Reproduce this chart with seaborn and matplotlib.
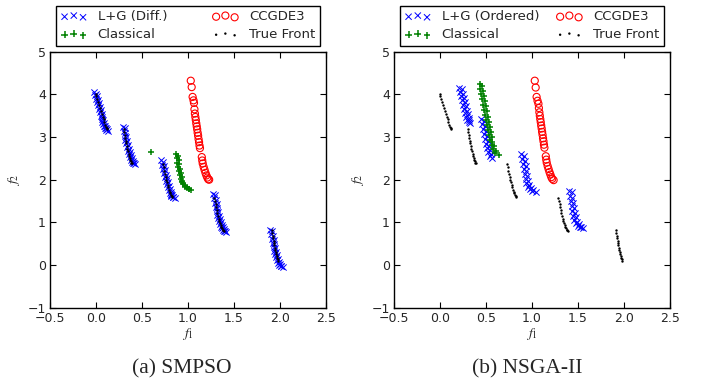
import numpy as np
import matplotlib
matplotlib.use("Agg")
import matplotlib.pyplot as plt
import seaborn as sns

# ---------------- data ----------------
# True Pareto front (same in both panels)
tf_x = [0.000, 0.004, 0.012, 0.022, 0.032, 0.042, 0.052, 0.062, 0.072, 0.082, 0.092, 0.102, 0.110, 0.116, 0.120,
        0.300, 0.306, 0.312, 0.318, 0.324, 0.330, 0.336, 0.342, 0.348, 0.354, 0.360, 0.366, 0.372, 0.378, 0.384, 0.390,
        0.730, 0.737, 0.744, 0.751, 0.758, 0.765, 0.772, 0.779, 0.786, 0.793, 0.800, 0.807, 0.814, 0.821, 0.828,
        1.285, 1.292, 1.299, 1.306, 1.313, 1.320, 1.327, 1.334, 1.341, 1.348, 1.355, 1.362, 1.369, 1.376, 1.383, 1.390,
        1.910, 1.915, 1.920, 1.925, 1.930, 1.935, 1.940, 1.945, 1.950, 1.955, 1.960, 1.965, 1.970, 1.975, 1.980]
tf_y = [4.00, 3.96, 3.90, 3.83, 3.76, 3.69, 3.62, 3.55, 3.48, 3.42, 3.35, 3.29, 3.24, 3.20, 3.18,
        3.19, 3.12, 3.05, 2.98, 2.91, 2.85, 2.79, 2.73, 2.67, 2.61, 2.56, 2.51, 2.47, 2.43, 2.40, 2.39,
        2.37, 2.29, 2.21, 2.14, 2.07, 2.00, 1.94, 1.88, 1.82, 1.77, 1.72, 1.68, 1.64, 1.61, 1.60,
        1.57, 1.49, 1.42, 1.35, 1.28, 1.21, 1.15, 1.09, 1.04, 0.99, 0.94, 0.90, 0.86, 0.83, 0.81, 0.80,
        0.81, 0.75, 0.69, 0.63, 0.57, 0.51, 0.46, 0.41, 0.36, 0.31, 0.26, 0.21, 0.17, 0.13, 0.09]

# (a) SMPSO
smpso_lg_x = [-0.02, 0.00, -0.01, 0.01, 0.00, 0.02, 0.01, 0.03, 0.02, 0.04, 0.03, 0.05, 0.04, 0.06, 0.05, 0.07, 0.06, 0.08,
              0.07, 0.09, 0.08, 0.10, 0.09, 0.11, 0.10, 0.12, 0.11, 0.13,
              0.29, 0.31, 0.30, 0.32, 0.31, 0.33, 0.32, 0.34, 0.33, 0.35, 0.34, 0.36, 0.35, 0.37, 0.36, 0.38, 0.37, 0.39,
              0.38, 0.40, 0.39, 0.41, 0.40, 0.42,
              0.71, 0.73, 0.72, 0.74, 0.73, 0.75, 0.74, 0.76, 0.75, 0.77, 0.76, 0.78, 0.77, 0.79, 0.78, 0.80, 0.79, 0.81,
              0.80, 0.82, 0.81, 0.83, 0.82, 0.84, 0.84, 0.86,
              1.27, 1.29, 1.28, 1.30, 1.29, 1.31, 1.30, 1.32, 1.31, 1.33, 1.32, 1.34, 1.33, 1.35, 1.34, 1.36, 1.35, 1.37,
              1.36, 1.38, 1.37, 1.39, 1.38, 1.40, 1.39, 1.41,
              1.89, 1.91, 1.90, 1.92, 1.91, 1.93, 1.92, 1.94, 1.93, 1.95, 1.94, 1.96, 1.95, 1.97, 1.96, 1.98, 1.97, 1.99,
              1.98, 2.00, 1.99, 2.01, 2.01, 2.03]
smpso_lg_y = [4.05, 4.02, 3.98, 3.95, 3.90, 3.87, 3.82, 3.79, 3.74, 3.71, 3.66, 3.63, 3.58, 3.55, 3.50, 3.47, 3.43, 3.40,
              3.36, 3.33, 3.30, 3.27, 3.25, 3.22, 3.21, 3.18, 3.17, 3.15,
              3.23, 3.20, 3.13, 3.10, 3.03, 3.00, 2.94, 2.91, 2.85, 2.82, 2.76, 2.73, 2.68, 2.65, 2.60, 2.57, 2.53, 2.50,
              2.47, 2.44, 2.42, 2.39, 2.38, 2.36,
              2.45, 2.42, 2.35, 2.32, 2.25, 2.22, 2.15, 2.12, 2.06, 2.03, 1.97, 1.94, 1.89, 1.86, 1.82, 1.79, 1.75, 1.72,
              1.69, 1.67, 1.65, 1.63, 1.62, 1.60, 1.59, 1.57,
              1.66, 1.63, 1.56, 1.53, 1.46, 1.43, 1.36, 1.33, 1.27, 1.24, 1.18, 1.15, 1.10, 1.07, 1.03, 1.00, 0.96, 0.93,
              0.90, 0.88, 0.86, 0.84, 0.82, 0.80, 0.79, 0.77,
              0.82, 0.79, 0.72, 0.69, 0.62, 0.59, 0.52, 0.49, 0.43, 0.40, 0.34, 0.31, 0.26, 0.23, 0.18, 0.15, 0.11, 0.08,
              0.05, 0.02, 0.01, -0.02, -0.03, -0.05]
smpso_cl_x = [0.60, 0.87, 0.89, 0.88, 0.90, 0.88, 0.90, 0.89, 0.91, 0.90, 0.92, 0.91, 0.93, 0.92, 0.94, 0.93, 0.95,
              0.95, 0.97, 0.97, 0.99, 0.99, 1.01, 1.01, 1.03]
smpso_cl_y = [2.65, 2.60, 2.56, 2.50, 2.46, 2.40, 2.36, 2.30, 2.26, 2.20, 2.16, 2.10, 2.06, 2.02, 1.98, 1.95, 1.92,
              1.89, 1.86, 1.84, 1.82, 1.80, 1.78, 1.78, 1.77]
smpso_cc_x = [1.03, 1.04, 1.05, 1.06, 1.065, 1.07, 1.075, 1.08, 1.085, 1.09, 1.095, 1.10, 1.105, 1.11, 1.115, 1.12, 1.125, 1.13,
              1.15, 1.155, 1.16, 1.17, 1.18, 1.19, 1.20, 1.21, 1.22, 1.23]
smpso_cc_y = [4.32, 4.17, 3.94, 3.86, 3.80, 3.65, 3.55, 3.47, 3.40, 3.32, 3.25, 3.18, 3.10, 3.03, 2.95, 2.88, 2.80, 2.74,
              2.53, 2.45, 2.38, 2.30, 2.23, 2.16, 2.10, 2.05, 2.01, 2.00]

# (b) NSGA-II
nsga_lg_x = [0.21, 0.24, 0.22, 0.25, 0.23, 0.26, 0.24, 0.27, 0.25, 0.28, 0.26, 0.29, 0.27, 0.30, 0.28, 0.31, 0.29, 0.32,
             0.31, 0.33,
             0.45, 0.48, 0.46, 0.49, 0.47, 0.50, 0.48, 0.51, 0.49, 0.52, 0.50, 0.53, 0.51, 0.54, 0.52, 0.55, 0.54, 0.56,
             0.88, 0.91, 0.89, 0.92, 0.90, 0.93, 0.91, 0.94, 0.92, 0.95, 0.93, 0.96, 0.94, 0.97, 0.96, 0.99, 0.98, 1.01,
             1.00, 1.04,
             1.40, 1.43, 1.41, 1.44, 1.42, 1.45, 1.43, 1.46, 1.44, 1.47, 1.45, 1.48, 1.46, 1.49, 1.48, 1.51, 1.50, 1.53,
             1.52, 1.55]
nsga_lg_y = [4.16, 4.12, 4.06, 4.02, 3.96, 3.92, 3.86, 3.82, 3.76, 3.72, 3.66, 3.62, 3.57, 3.53, 3.48, 3.45, 3.41, 3.39,
             3.36, 3.34,
             3.42, 3.38, 3.30, 3.26, 3.18, 3.14, 3.06, 3.02, 2.95, 2.91, 2.84, 2.80, 2.74, 2.70, 2.64, 2.60, 2.55, 2.52,
             2.60, 2.56, 2.48, 2.44, 2.36, 2.32, 2.24, 2.20, 2.13, 2.09, 2.02, 1.98, 1.92, 1.88, 1.84, 1.80, 1.78, 1.75,
             1.74, 1.72,
             1.74, 1.70, 1.62, 1.58, 1.50, 1.46, 1.38, 1.34, 1.27, 1.23, 1.16, 1.12, 1.06, 1.02, 0.98, 0.95, 0.92, 0.90,
             0.89, 0.87]
nsga_cl_x = [0.43, 0.46, 0.44, 0.47, 0.45, 0.48, 0.46, 0.49, 0.47, 0.50, 0.48, 0.51, 0.49, 0.52, 0.50, 0.53, 0.51, 0.54,
             0.52, 0.55, 0.53, 0.56, 0.54, 0.57, 0.56, 0.59, 0.58, 0.61, 0.60, 0.64]
nsga_cl_y = [4.24, 4.20, 4.12, 4.08, 4.00, 3.96, 3.88, 3.84, 3.76, 3.72, 3.64, 3.60, 3.52, 3.48, 3.40, 3.36, 3.28, 3.24,
             3.16, 3.12, 3.04, 3.00, 2.93, 2.89, 2.82, 2.78, 2.72, 2.68, 2.62, 2.58]
nsga_cc_x = [1.03, 1.04, 1.05, 1.06, 1.07, 1.075, 1.08, 1.085, 1.09, 1.095, 1.10, 1.105, 1.11, 1.115, 1.12, 1.125, 1.13, 1.135,
             1.15, 1.155, 1.16, 1.17, 1.18, 1.19, 1.20, 1.21, 1.22, 1.235]
nsga_cc_y = [4.32, 4.16, 3.94, 3.85, 3.78, 3.68, 3.58, 3.50, 3.42, 3.35, 3.27, 3.20, 3.12, 3.05, 2.97, 2.90, 2.82, 2.75,
             2.55, 2.47, 2.40, 2.32, 2.25, 2.18, 2.12, 2.06, 2.02, 1.99]

x_ticks = [-0.5, 0.0, 0.5, 1.0, 1.5, 2.0, 2.5]
y_ticks = [-1, 0, 1, 2, 3, 4, 5]
captions = ["(a) SMPSO", "(b) NSGA-II"]
lg_labels = ["L+G (Diff.)", "L+G (Ordered)"]

# ---------------- style ----------------
sns.set_style("ticks")
plt.rcParams['font.family'] = ['DejaVu Sans']
plt.rcParams['mathtext.fontset'] = 'stix'
plt.rcParams['axes.unicode_minus'] = True

fig = plt.figure(figsize=(7.06, 3.87), dpi=100)
W, H = 706.0, 387.0
ax_bottom = (H - 307.7) / H
ax_h = 256.0 / H
ax_w = 276.0 / W
axL = fig.add_axes([50 / W, ax_bottom, ax_w, ax_h])
axR = fig.add_axes([394 / W, ax_bottom, ax_w, ax_h])


def panel(ax, lgx, lgy, lglab, clx, cly, ccx, ccy, caption, cx):
    sns.scatterplot(x=lgx, y=lgy, marker='x', color='b', s=20, linewidth=0.7, ax=ax, label=lglab, zorder=2)
    sns.scatterplot(x=clx, y=cly, marker='+', color='g', s=24, linewidth=1.1, ax=ax, label='Classical', zorder=3)
    sns.scatterplot(x=ccx, y=ccy, marker='o', color='r', facecolor='none', edgecolor='r', s=26,
                    linewidth=0.8, ax=ax, label='CCGDE3', zorder=4)
    sns.scatterplot(x=tf_x, y=tf_y, marker='o', color='k', edgecolor='k', s=3, linewidth=0,
                    ax=ax, label='True Front', zorder=5)
    ax.set_xlim(-0.5, 2.5)
    ax.set_ylim(-1, 5)
    ax.set_xticks(x_ticks)
    ax.set_yticks(y_ticks)
    ax.tick_params(direction='in', top=True, right=True, length=4, width=0.8,
                   labelsize=9, pad=3, color='k')
    for sp in ax.spines.values():
        sp.set_color('k')
        sp.set_linewidth(1.0)
        sp.set_visible(True)
    ax.set_xlabel('$f_1$', fontsize=10, labelpad=1)
    ax.set_ylabel('$f_2$', fontsize=10, labelpad=4)
    leg = ax.legend(loc='lower left', bbox_to_anchor=(0.0217, 1.023, 0.9565, 0.16), mode='expand',
                    ncol=2, scatterpoints=3, scatteryoffsets=[0.375, 0.5, 0.3125],
                    frameon=True, fancybox=False, framealpha=1, edgecolor='k', fontsize=9.5,
                    borderpad=0.35, labelspacing=0.38, handlelength=2.0, handletextpad=0.8,
                    borderaxespad=0.0)
    leg.get_frame().set_linewidth(1.0)
    fig.text(cx / W, 1 - 369 / H, caption, ha='center', va='center',
             fontfamily='Liberation Serif', fontsize=15.5)


panel(axL, smpso_lg_x, smpso_lg_y, lg_labels[0], smpso_cl_x, smpso_cl_y, smpso_cc_x, smpso_cc_y, captions[0], 182)
panel(axR, nsga_lg_x, nsga_lg_y, lg_labels[1], nsga_cl_x, nsga_cl_y, nsga_cc_x, nsga_cc_y, captions[1], 527)

fig.savefig("out.png", dpi=100)
